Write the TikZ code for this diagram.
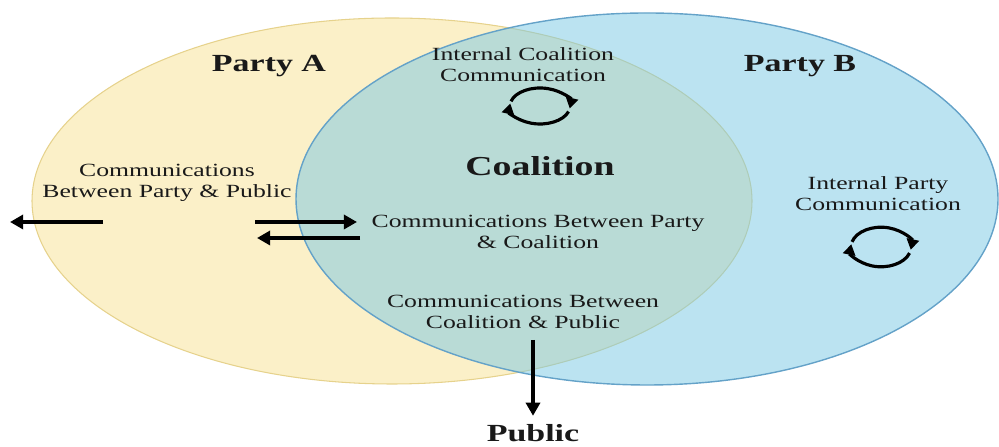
\documentclass[tikz,border=0pt]{standalone}
\usepackage{fontspec}
\setmainfont[FakeStretch=1.38]{Liberation Serif}
\usetikzlibrary{arrows.meta}

\definecolor{partyafill}{RGB}{251,240,200}
\definecolor{partyaline}{RGB}{230,210,140}
\definecolor{partybfill}{RGB}{120,200,228}
\definecolor{partybline}{RGB}{100,162,200}
\definecolor{inktext}{RGB}{25,25,25}

\tikzset{
  heading/.style={font=\bfseries\fontsize{14}{16}\selectfont, text=inktext, anchor=base, inner sep=0pt},
  commtext/.style={font=\fontsize{10.6}{12.5}\selectfont, text=inktext, align=center, anchor=base, inner sep=0pt},
  flow/.style={line width=2.4pt, -{Triangle[length=7.5pt,width=8pt]}},
  loopline/.style={line width=1.8pt, -{Triangle[length=6pt,width=7pt]}},
  pics/cycleicon/.style={code={
    \draw[loopline] (165:30 and 18) arc[start angle=165, end angle=-8, x radius=30, y radius=18];
    \draw[loopline] (-18:30 and 18) arc[start angle=-18, end angle=-188, x radius=30, y radius=18];
  }}
}

\begin{document}
\begin{tikzpicture}[x=0.2mm, y=0.2mm]
\useasboundingbox (0,0) rectangle (999,447);

% the two parties, overlap is the coalition
\draw[partyaline, line width=0.6pt, fill=partyafill] (392,246) ellipse [x radius=360, y radius=183];
\draw[partybline, line width=0.8pt, fill=partybfill, fill opacity=0.5] (647,248) ellipse [x radius=351, y radius=186];

% titles
\node[heading] (partya) at (269,375) {Party A};
\node[heading] (partyb) at (800,375) {Party B};
\node[heading, font=\bfseries\fontsize{15.6}{18}\selectfont] (coalition) at (540,271) {Coalition};
\node[heading] (public) at (533,5) {Public};

% communication labels (base = last line)
\node[commtext] (intcoal) at (523,365) {Internal Coalition\\Communication};
\node[commtext] (intparty) at (878,236) {Internal Party\\Communication};
\node[commtext] (partypub) at (167,249) {Communications\\Between Party \& Public};
\node[commtext] (partycoal) at (538,198) {Communications Between Party\\\& Coalition};
\node[commtext] (coalpub) at (523,118) {Communications Between\\Coalition \& Public};

% internal loops
\pic at (540,341) {cycleicon};
\pic[yscale=1.1] at (881,200) {cycleicon};

% arrow ends
\coordinate (outstart) at (103,225);
\coordinate (outend) at (10,225);
\coordinate (tocoalstart) at (255,225);
\coordinate (tocoalend) at (357,225);
\coordinate (fromcoalstart) at (360,209);
\coordinate (fromcoalend) at (257,209);
\coordinate (downstart) at (533,107);

\draw[flow] (outstart) -- (outend);
\draw[flow] (tocoalstart) -- (tocoalend);
\draw[flow] (fromcoalstart) -- (fromcoalend);
\draw[flow, shorten >=5pt] (downstart) -- (public.north);

\end{tikzpicture}
\end{document}
